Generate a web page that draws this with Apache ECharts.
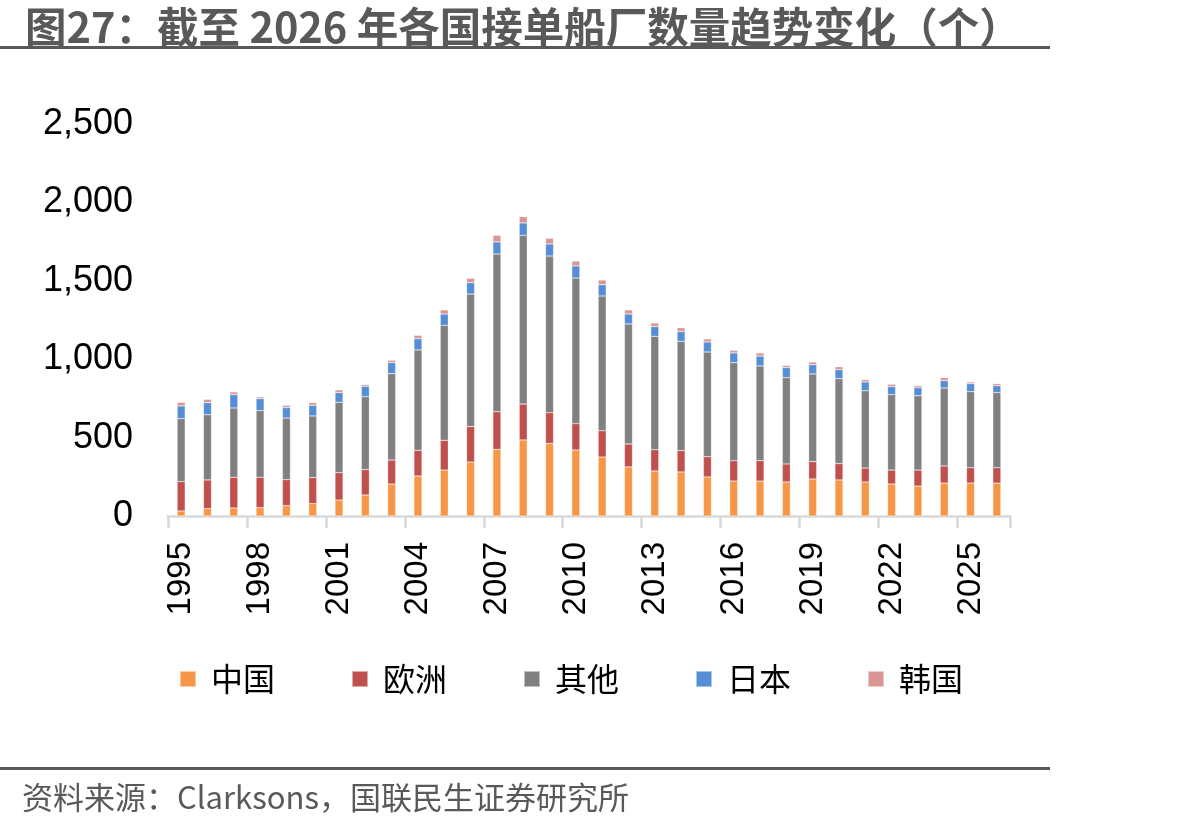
<!DOCTYPE html>
<html>
<head>
    <meta charset="utf-8">
    <title>各国接单船厂数量趋势变化</title>
    <script src="https://cdn.jsdelivr.net/npm/echarts@6/dist/echarts.min.js"></script>
    <style>
        html, body { margin: 0; padding: 0; background: #fff; }
        #chart { width: 1199px; height: 830px; }
    </style>
</head>
<body>
<div id="chart"></div>
<script type="text/javascript">
    // 数据（个）
    var years = ['1995','1996','1997','1998','1999','2000','2001','2002','2003','2004','2005',
        '2006','2007','2008','2009','2010','2011','2012','2013','2014','2015','2016','2017',
        '2018','2019','2020','2021','2022','2023','2024','2025','2026'];
    var china  = [32, 47, 51, 53, 66, 79, 102, 134, 204, 255, 293, 344, 425, 485, 463, 421, 376, 313, 287, 281, 249, 223, 223, 217, 236, 230, 217, 204, 191, 210, 210, 210];
    var europe = [187, 183, 196, 194, 166, 166, 174, 162, 153, 164, 190, 226, 240, 229, 196, 168, 168, 146, 136, 136, 129, 130, 130, 115, 111, 104, 89, 89, 102, 109, 98, 98];
    var other  = [402, 416, 442, 425, 393, 393, 449, 465, 551, 640, 733, 846, 1006, 1076, 999, 929, 859, 766, 723, 697, 668, 625, 604, 550, 559, 542, 493, 481, 474, 497, 485, 479];
    var japan  = [81, 77, 85, 76, 66, 68, 62, 66, 70, 72, 72, 72, 77, 79, 77, 77, 72, 63, 62, 62, 64, 62, 63, 64, 59, 57, 56, 51, 52, 47, 51, 44];
    var korea  = [23, 21, 17, 11, 15, 17, 17, 11, 15, 21, 26, 28, 42, 40, 36, 31, 30, 26, 23, 25, 19, 17, 20, 15, 17, 19, 15, 15, 12, 19, 11, 13];

    var names = ['中国', '欧洲', '其他', '日本', '韩国'];
    var colors = ['#F79646', '#C0504D', '#808080', '#558ED5', '#DA9694'];
    var values = [china, europe, other, japan, korea];

    var seriesList = [];
    for (var i = 0; i < names.length; i++) {
        seriesList.push({
            name: names[i],
            type: 'bar',
            stack: 'total',
            barWidth: 8,
            itemStyle: { color: colors[i], borderColor: 'rgba(255,255,255,0.5)', borderWidth: 0.5 },
            data: values[i]
        });
    }

    var myChart = echarts.init(document.getElementById('chart'));
    var option = {
        animation: false,
        backgroundColor: '#fff',
        textStyle: { fontFamily: '"Noto Sans CJK SC", "Liberation Sans", sans-serif' },
        title: {
            text: '图27：截至 2026 年各国接单船厂数量趋势变化（个）',
            left: 20,
            top: 1,
            textStyle: {
                fontFamily: '"Noto Sans CJK SC", sans-serif',
                fontSize: 41.5,
                fontWeight: 'bold',
                color: '#595959'
            }
        },
        legend: {
            data: names,
            left: 174,
            top: 658,
            itemWidth: 16,
            itemHeight: 16,
            itemGap: 76,
            icon: 'rect',
            textStyle: {
                fontFamily: '"Noto Sans CJK SC", sans-serif',
                fontSize: 32,
                color: '#000',
                padding: [0, 0, 0, 10]
            }
        },
        grid: {
            left: 168,
            right: 189,
            top: 124,
            bottom: 314,
            containLabel: false
        },
        xAxis: {
            type: 'category',
            data: years,
            axisLine: { lineStyle: { color: '#d9d9d9', width: 2.5 } },
            axisTick: { show: true, interval: 2, length: 12, lineStyle: { color: '#d9d9d9', width: 2.5 } },
            axisLabel: {
                interval: 2,
                rotate: 90,
                margin: 26,
                fontFamily: '"Liberation Sans", sans-serif',
                fontSize: 33,
                color: '#000'
            }
        },
        yAxis: {
            type: 'value',
            min: 0,
            max: 2500,
            interval: 500,
            splitLine: { show: false },
            axisLine: { show: false },
            axisTick: { show: false },
            axisLabel: {
                margin: 35,
                fontFamily: '"Liberation Sans", sans-serif',
                fontSize: 36,
                color: '#000',
                formatter: function (v) { return v.toLocaleString('en-US'); }
            }
        },
        graphic: [
            { type: 'rect', shape: { x: 0, y: 46, width: 1050, height: 3 }, style: { fill: '#595959' } },
            { type: 'rect', shape: { x: 0, y: 767, width: 1050, height: 3 }, style: { fill: '#595959' } },
            {
                type: 'text', left: 22, top: 782,
                style: {
                    text: '资料来源：Clarksons，国联民生证券研究所',
                    fontFamily: '"Noto Sans CJK SC", sans-serif',
                    fontSize: 31,
                    fill: '#595959'
                }
            }
        ],
        series: seriesList
    };
    myChart.setOption(option);
</script>
</body>
</html>
